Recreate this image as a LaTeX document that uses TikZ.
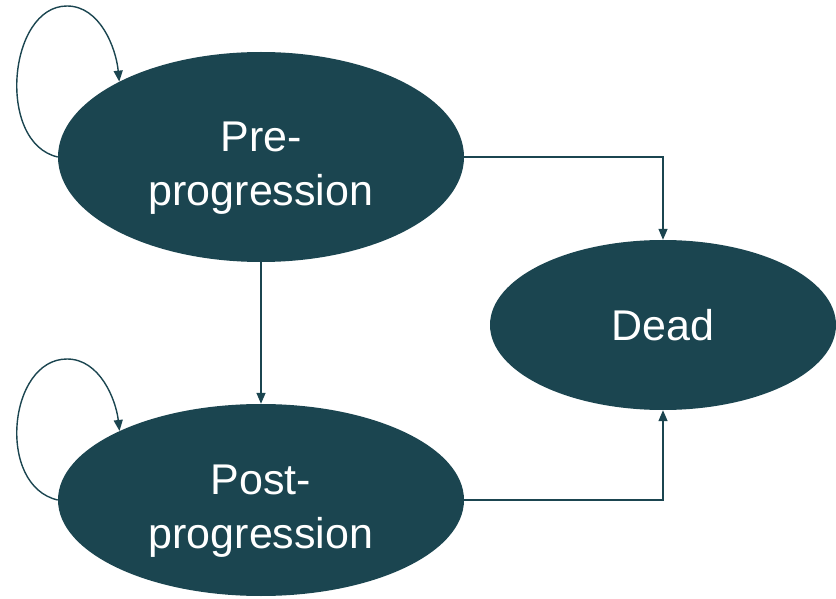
\documentclass[tikz,border=0pt]{standalone}
\usepackage{fontspec}
\setmainfont{Liberation Sans}
\usepackage{tikz}
\usetikzlibrary{shapes.geometric, arrows.meta}
\definecolor{statefill}{RGB}{27,69,80}
\newcommand{\toppad}{\rule{0pt}{52pt}}

\begin{document}
\begin{tikzpicture}[x=1pt, y=1pt,
    state/.style={ellipse, fill=statefill, text=white, inner sep=0pt, align=center,
                  font=\fontsize{43}{54}\selectfont},
    arr/.style={draw=statefill, line width=1.4pt, -{Triangle[width=9pt, length=11pt]}}]
  \useasboundingbox (0,0) rectangle (836,598);
  \node[state, minimum width=406pt, minimum height=210pt] (pre) at (261,441) {\toppad Pre-\\progression};
  \node[state, minimum width=406pt, minimum height=192pt] (post) at (261,98) {\toppad Post-\\progression};
  \node[state, minimum width=346pt, minimum height=170pt] (dead) at (663,273) {Dead};
  \draw[arr] (pre.south) -- (post.north);
  \draw[arr] (pre.east) -| (dead.north);
  \draw[arr] (post.east) -| (dead.south);
  \draw[arr] (pre.west) .. controls (-4,455) and (8,592) .. (67,592)
                        .. controls (100,592) and (116,550) .. (pre.152);
  \draw[arr] (post.west) .. controls (-4,112) and (8,239) .. (67,239)
                         .. controls (100,239) and (116,198) .. (post.154);
\end{tikzpicture}
\end{document}
